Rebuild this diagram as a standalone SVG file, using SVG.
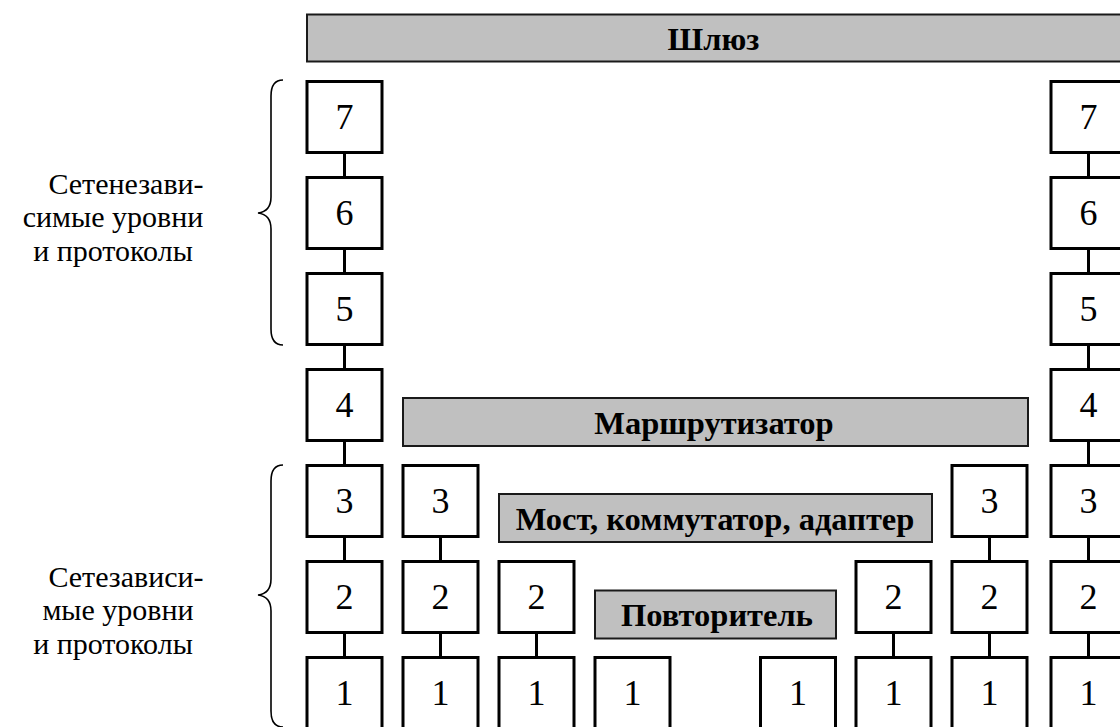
<svg xmlns="http://www.w3.org/2000/svg" width="1120" height="727" viewBox="0 0 1120 727">
  <style>
    .box { fill: #ffffff; stroke: #000000; stroke-width: 3; }
    .bar { fill: #c0c0c0; stroke: #1a1a1a; stroke-width: 2; }
    .num { font-family: "Liberation Serif", "Times New Roman", serif; font-size: 36px; text-anchor: middle; fill: #000; }
    .lbl { font-family: "Liberation Serif", "Times New Roman", serif; font-size: 32.5px; font-weight: bold; text-anchor: middle; fill: #000; }
    .side { font-family: "Liberation Serif", "Times New Roman", serif; font-size: 30px; text-anchor: middle; fill: #000; }
    .link { stroke: #000; stroke-width: 3; }
    .brace { fill: none; stroke: #000; stroke-width: 1.6; }
  </style>

  <rect width="1120" height="727" fill="#ffffff"/>

  <!-- device bars -->
  <g id="gateway">
    <rect class="bar" x="307" y="14.5" width="820" height="47"/>
    <text class="lbl" x="713.5" y="49.5">Шлюз</text>
  </g>
  <g id="router">
    <rect class="bar" x="403" y="398" width="625" height="48"/>
    <text class="lbl" x="714" y="433.5">Маршрутизатор</text>
  </g>
  <g id="bridge">
    <rect class="bar" x="499" y="494" width="433" height="48"/>
    <text class="lbl" x="715" y="529.5">Мост, коммутатор, адаптер</text>
  </g>
  <g id="repeater">
    <rect class="bar" x="595" y="590.5" width="241" height="48"/>
    <text class="lbl" x="717" y="626">Повторитель</text>
  </g>

  <!-- side captions with braces -->
  <g id="upper-caption">
    <path class="brace" d="M283,80 C275,80 271,86 271,96 L271,197 C271,207 266,212 258,213 C266,214 271,219 271,229 L271,329 C271,339 275,345 283,345"/>
    <text class="side" x="126" y="193.5">Сетенезави-</text>
    <text class="side" x="113" y="227">симые уровни</text>
    <text class="side" x="113" y="260.5">и протоколы</text>
  </g>
  <g id="lower-caption">
    <path class="brace" d="M283,465 C275,465 271,471 271,481 L271,579 C271,589 266,594 258,595 C266,596 271,601 271,611 L271,711 C271,721 275,727 283,727"/>
    <text class="side" x="126" y="586.5">Сетезависи-</text>
    <text class="side" x="118" y="620">мые уровни</text>
    <text class="side" x="113" y="653.5">и протоколы</text>
  </g>

  <!-- connectors between stacked layers -->
  <g id="connectors">
    <line class="link" x1="344.5" y1="154" x2="344.5" y2="176"/>
    <line class="link" x1="344.5" y1="250" x2="344.5" y2="272"/>
    <line class="link" x1="344.5" y1="346" x2="344.5" y2="368"/>
    <line class="link" x1="344.5" y1="442" x2="344.5" y2="464"/>
    <line class="link" x1="344.5" y1="538" x2="344.5" y2="560"/>
    <line class="link" x1="344.5" y1="634" x2="344.5" y2="656"/>

    <line class="link" x1="440.5" y1="538" x2="440.5" y2="560"/>
    <line class="link" x1="440.5" y1="634" x2="440.5" y2="656"/>

    <line class="link" x1="536.5" y1="634" x2="536.5" y2="656"/>

    <line class="link" x1="893.5" y1="634" x2="893.5" y2="656"/>

    <line class="link" x1="989.5" y1="538" x2="989.5" y2="560"/>
    <line class="link" x1="989.5" y1="634" x2="989.5" y2="656"/>

    <line class="link" x1="1088.5" y1="154" x2="1088.5" y2="176"/>
    <line class="link" x1="1088.5" y1="250" x2="1088.5" y2="272"/>
    <line class="link" x1="1088.5" y1="346" x2="1088.5" y2="368"/>
    <line class="link" x1="1088.5" y1="442" x2="1088.5" y2="464"/>
    <line class="link" x1="1088.5" y1="538" x2="1088.5" y2="560"/>
    <line class="link" x1="1088.5" y1="634" x2="1088.5" y2="656"/>
  </g>

  <!-- column 1: end system, full stack -->
  <g id="a7"><rect class="box" x="307" y="81.5" width="75" height="71"/><text class="num" x="344.5" y="129">7</text></g>
  <g id="a6"><rect class="box" x="307" y="177.5" width="75" height="71"/><text class="num" x="344.5" y="225">6</text></g>
  <g id="a5"><rect class="box" x="307" y="273.5" width="75" height="71"/><text class="num" x="344.5" y="321">5</text></g>
  <g id="a4"><rect class="box" x="307" y="369.5" width="75" height="71"/><text class="num" x="344.5" y="417">4</text></g>
  <g id="a3"><rect class="box" x="307" y="465.5" width="75" height="71"/><text class="num" x="344.5" y="513">3</text></g>
  <g id="a2"><rect class="box" x="307" y="561.5" width="75" height="71"/><text class="num" x="344.5" y="609">2</text></g>
  <g id="a1"><rect class="box" x="307" y="657.5" width="75" height="90"/><text class="num" x="344.5" y="705">1</text></g>

  <!-- column 2: router side -->
  <g id="b3"><rect class="box" x="403" y="465.5" width="75" height="71"/><text class="num" x="440.5" y="513">3</text></g>
  <g id="b2"><rect class="box" x="403" y="561.5" width="75" height="71"/><text class="num" x="440.5" y="609">2</text></g>
  <g id="b1"><rect class="box" x="403" y="657.5" width="75" height="90"/><text class="num" x="440.5" y="705">1</text></g>

  <!-- column 3: bridge side -->
  <g id="c2"><rect class="box" x="499" y="561.5" width="75" height="71"/><text class="num" x="536.5" y="609">2</text></g>
  <g id="c1"><rect class="box" x="499" y="657.5" width="75" height="90"/><text class="num" x="536.5" y="705">1</text></g>

  <!-- column 4: repeater side -->
  <g id="d1"><rect class="box" x="595" y="657.5" width="75" height="90"/><text class="num" x="632.5" y="705">1</text></g>

  <!-- column 5: repeater side -->
  <g id="e1"><rect class="box" x="760.5" y="657.5" width="75" height="90"/><text class="num" x="798" y="705">1</text></g>

  <!-- column 6: bridge side -->
  <g id="f2"><rect class="box" x="856" y="561.5" width="75" height="71"/><text class="num" x="893.5" y="609">2</text></g>
  <g id="f1"><rect class="box" x="856" y="657.5" width="75" height="90"/><text class="num" x="893.5" y="705">1</text></g>

  <!-- column 7: router side -->
  <g id="g3"><rect class="box" x="952" y="465.5" width="75" height="71"/><text class="num" x="989.5" y="513">3</text></g>
  <g id="g2"><rect class="box" x="952" y="561.5" width="75" height="71"/><text class="num" x="989.5" y="609">2</text></g>
  <g id="g1"><rect class="box" x="952" y="657.5" width="75" height="90"/><text class="num" x="989.5" y="705">1</text></g>

  <!-- column 8: end system, full stack -->
  <g id="h7"><rect class="box" x="1051" y="81.5" width="75" height="71"/><text class="num" x="1088.5" y="129">7</text></g>
  <g id="h6"><rect class="box" x="1051" y="177.5" width="75" height="71"/><text class="num" x="1088.5" y="225">6</text></g>
  <g id="h5"><rect class="box" x="1051" y="273.5" width="75" height="71"/><text class="num" x="1088.5" y="321">5</text></g>
  <g id="h4"><rect class="box" x="1051" y="369.5" width="75" height="71"/><text class="num" x="1088.5" y="417">4</text></g>
  <g id="h3"><rect class="box" x="1051" y="465.5" width="75" height="71"/><text class="num" x="1088.5" y="513">3</text></g>
  <g id="h2"><rect class="box" x="1051" y="561.5" width="75" height="71"/><text class="num" x="1088.5" y="609">2</text></g>
  <g id="h1"><rect class="box" x="1051" y="657.5" width="75" height="90"/><text class="num" x="1088.5" y="705">1</text></g>
</svg>
